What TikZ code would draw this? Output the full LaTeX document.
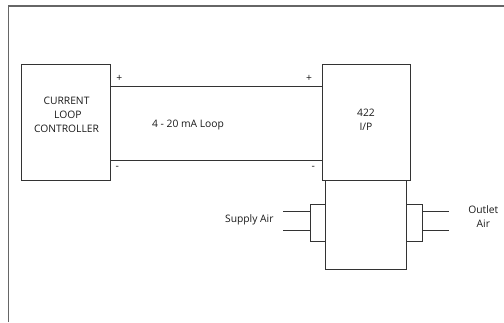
\documentclass[tikz,border=0pt]{standalone}
\usepackage{fontspec}
\setmainfont{Open Sans}
\usetikzlibrary{calc,positioning}
\tikzset{
    box/.style = {
        draw = black!80,
        line width = 0.9pt,
        inner sep = 0pt,
        },
    wire/.style = {
        draw = black!80,
        line width = 0.9pt,
        },
    frame/.style = {
        draw = black!60,
        line width = 1.1pt,
        },
    lbl/.style = {
        font = \fontsize{10.3}{14}\selectfont,
        text = black!90,
        align = center,
        inner sep = 0pt,
        },
    sign/.style = {
        font = \fontsize{10.3}{10}\selectfont,
        text = black!90,
        inner sep = 0pt,
        },
}
\begin{document}
\begin{tikzpicture}[x=1pt, y=-1pt]
            \useasboundingbox (0,0) rectangle (504,322);
            \draw[frame] (8.3,322) -- (8.3,6) -- (504,6);

            % controller and converter
            \node[box, minimum width=88.5pt, minimum height=116pt] (ctrl) at (65.75,122.3) {};
            \node[box, minimum width=88pt, minimum height=116pt] (ip) at (366.3,122.3) {};
            \node[box, minimum width=80.6pt, minimum height=88.7pt] (body) at (366,224.7) {};
            \node[box, minimum width=15.7pt, minimum height=37pt] (inport) at (317.9,222.5) {};
            \node[box, minimum width=16pt, minimum height=37pt] (outport) at (414.3,222.5) {};

            \node[lbl] (ctrltext) at (66.5,115) {CURRENT\\ \ LOOP\\CONTROLLER};
            \node[lbl] (iptext) at (366,120) {422\\I/P};
            \node[lbl] (looptext) at (188,125.3) {4 - 20 mA Loop};

            % loop wires
            \coordinate (pa) at ($(ctrl.north east)+(0,22.7)$);
            \coordinate (ma) at ($(ctrl.north east)+(0,96.4)$);
            \draw[wire] (pa) -- (pa -| ip.west);
            \draw[wire] (ma) -- (ma -| ip.west);
            \node[sign] (p1) at (119.3,78.3) {+};
            \node[sign] (p2) at (309,78.3) {+};
            \node[sign] (m1) at (117.3,168) {-};
            \node[sign] (m2) at (313.3,168) {-};

            % air lines
            \coordinate (sa) at (283.3,211.3);
            \coordinate (sb) at (283.3,230);
            \coordinate (oa) at (448.7,211.3);
            \coordinate (ob) at (448.7,230);
            \draw[wire] (sa) -- (sa -| inport.west);
            \draw[wire] (sb) -- (sb -| inport.west);
            \draw[wire] (oa -| outport.east) -- (oa);
            \draw[wire] (ob -| outport.east) -- (ob);
            \node[lbl] (supply) at (249.3,220) {Supply Air};
            \node[lbl] (outlet) at (483.3,217) {Outlet\\Air};
\end{tikzpicture}
\end{document}
